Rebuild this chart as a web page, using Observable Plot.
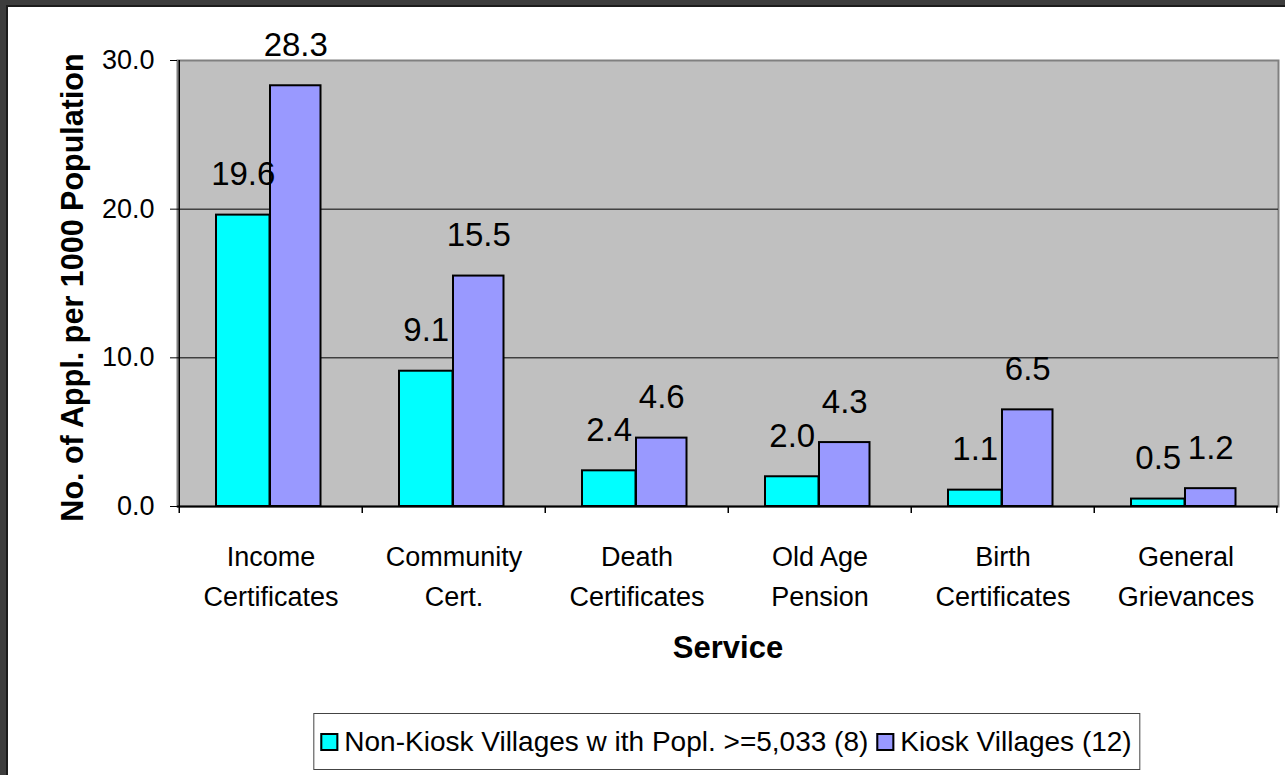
<!DOCTYPE html>
<html>
<head>
<meta charset="utf-8">
<script src="https://cdn.jsdelivr.net/npm/d3@7"></script>
<script src="https://cdn.jsdelivr.net/npm/@observablehq/plot@0.6"></script>
<style>
  html, body { margin: 0; padding: 0; }
  body { background: #3d3d3d; width: 1285px; height: 775px; overflow: hidden; position: relative; font-family: "Liberation Sans", Arial, sans-serif; }
  #panel { position: absolute; left: 6px; top: 5px; right: 0; bottom: 0; background: #fff; border-left: 2px solid #1c1c1c; border-top: 2px solid #1c1c1c; }
  #chart { position: absolute; left: 0; top: 0; }
  #legend { position: absolute; top: 713px; left: 727px; transform: translateX(-50%); height: 55px; border: 1px solid #444; background: #fff;
            display: flex; align-items: center; padding: 0 8px 0 6px; white-space: pre; font-size: 28px; color: #000; }
  .sw { width: 14px; height: 14px; border: 2px solid #000; margin-right: 6px; flex: none; }
  .item { display: flex; align-items: center; margin-right: 8px; }
  .item:last-child { margin-right: 0; }
</style>
</head>
<body>
<div id="panel"></div>
<div id="chart"></div>
<div id="legend"></div>
<script>
const categories = ["Income Certificates", "Community Cert.", "Death Certificates", "Old Age Pension", "Birth Certificates", "General Grievances"];
const tickLabels = ["Income\nCertificates", "Community\nCert.", "Death\nCertificates", "Old Age\nPension", "Birth\nCertificates", "General\nGrievances"];
const nonKioskValues = [19.6, 9.1, 2.4, 2.0, 1.1, 0.5];
const kioskValues = [28.3, 15.5, 4.6, 4.3, 6.5, 1.2];
const seriesNames = ["Non-Kiosk Villages w ith Popl. >=5,033 (8)", "Kiosk Villages (12)"];
const seriesColors = ["#00ffff", "#9999ff"];
const yTicks = [0, 10, 20, 30];
const xTitle = "Service";
const yTitle = "No. of Appl. per 1000 Population";

const nonRows = categories.map((c, i) => ({category: c, value: nonKioskValues[i]}));
const kioskRows = categories.map((c, i) => ({category: c, value: kioskValues[i]}));

const W = 1285, H = 705, ML = 177, MR = 7, MT = 60, MB = 199;
const step = (W - ML - MR) / categories.length;
const font = "'Liberation Sans', Arial, sans-serif";

const chart = Plot.plot({
  width: W, height: H,
  marginLeft: ML, marginRight: MR, marginTop: MT, marginBottom: MB,
  style: {background: "transparent", fontFamily: font, overflow: "visible", color: "#000"},
  x: {domain: categories, padding: 0, label: null, axis: null},
  y: {domain: [0, 30], label: null, axis: null},
  marks: [
    Plot.frame({fill: "#c0c0c0", stroke: "#808080", strokeWidth: 2}),
    Plot.gridY([10, 20], {stroke: "#000", strokeOpacity: 1, strokeWidth: 1}),
    Plot.barY(nonRows, {x: "category", y: "value", fill: seriesColors[0], stroke: "#000", strokeWidth: 2, insetLeft: 37, insetRight: 92.5}),
    Plot.barY(kioskRows, {x: "category", y: "value", fill: seriesColors[1], stroke: "#000", strokeWidth: 2, insetLeft: 91, insetRight: 41.5}),
    Plot.ruleY([0], {stroke: "#000", strokeWidth: 2}),
    Plot.ruleX([categories[0]], {x: d => d, y1: 30, y2: 0, dx: -step / 2, insetBottom: -7, stroke: "#000", strokeWidth: 1.5}),
    Plot.ruleX(categories.slice(1), {x: d => d, y1: 0, y2: 0, dx: -step / 2, insetBottom: -7, stroke: "#000", strokeWidth: 1.5}),
    Plot.ruleX([categories[categories.length - 1]], {x: d => d, y1: 0, y2: 0, dx: step / 2 - 1, insetBottom: -7, stroke: "#000", strokeWidth: 1.5}),
    Plot.axisY({ticks: yTicks, tickFormat: d => d.toFixed(1), tickSize: 7, tickPadding: 16, fontSize: 27, label: null, stroke: "#000"}),
    Plot.text(categories, {x: d => d, text: (d, i) => tickLabels[i], frameAnchor: "bottom", lineAnchor: "top", dy: 31.5, fontSize: 27, lineHeight: 1.48, fill: "#000"}),
    Plot.text(nonRows, {x: "category", y: "value", text: d => d.value.toFixed(1), dx: -27.75, dy: -30, lineAnchor: "bottom", fontSize: 33, fill: "#000"}),
    Plot.text(kioskRows, {x: "category", y: "value", text: d => d.value.toFixed(1), dx: 24.75, dy: -30, lineAnchor: "bottom", fontSize: 33, fill: "#000"}),
    Plot.text([xTitle], {frameAnchor: "bottom", dy: 151, lineAnchor: "bottom", fontSize: 31, fontWeight: "bold", fill: "#000"}),
    Plot.text([yTitle], {frameAnchor: "left", textAnchor: "middle", lineAnchor: "middle", rotate: -90, dx: -104, dy: 4, fontSize: 30.5, fontWeight: "bold", fill: "#000"})
  ]
});
document.getElementById("chart").appendChild(chart);

const legend = document.getElementById("legend");
seriesNames.forEach((name, i) => {
  const item = document.createElement("div");
  item.className = "item";
  const sw = document.createElement("div");
  sw.className = "sw";
  sw.style.background = seriesColors[i];
  const label = document.createElement("span");
  label.textContent = name;
  item.appendChild(sw);
  item.appendChild(label);
  legend.appendChild(item);
});
</script>
</body>
</html>
